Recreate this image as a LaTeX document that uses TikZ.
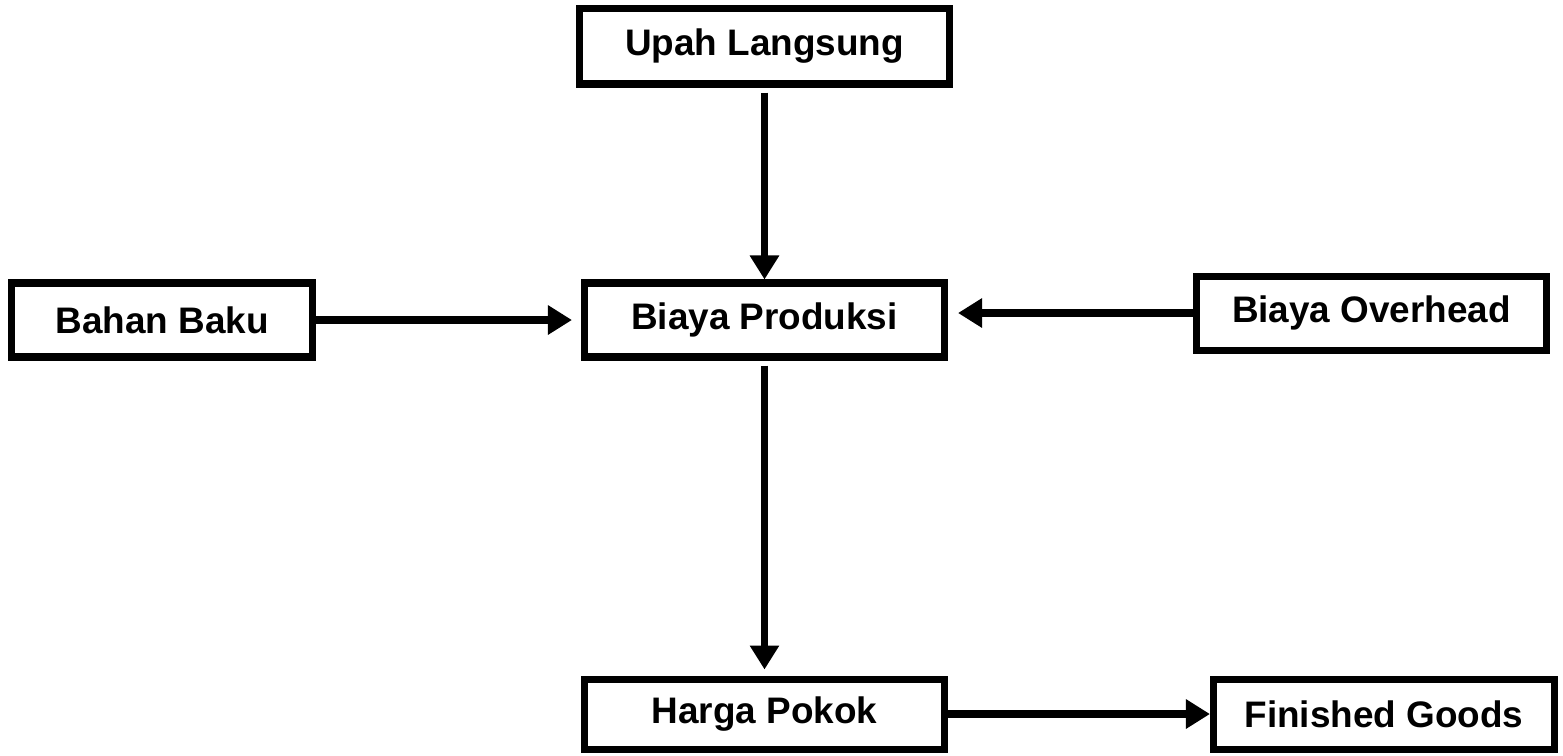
\documentclass[tikz,border=0pt]{standalone}
\usepackage{fontspec}
\setmainfont{Liberation Sans}
\usepackage{tikz}
\usetikzlibrary{arrows.meta, positioning, calc}
\tikzset{
  box/.style={
    rectangle, draw=black, line width=2pt, fill=white,
    minimum width=#1, minimum height=0.74cm, inner sep=0pt,
    text centered, font=\fontsize{10.5}{12}\selectfont\bfseries
  },
  arrow/.style={-{Triangle[length=0.24cm,width=0.28cm]}, line width=2.2pt, black}
}

\begin{document}
\begin{tikzpicture}[x=1cm, y=1cm]
  \useasboundingbox (0,0) rectangle (15.63,-7.55);
  \node[box=3.70cm, minimum height=0.76cm] (upah)     at (7.645,-0.46)  {Upah Langsung};
  \node[box=3.01cm]                        (bahan)    at (1.62,-3.20)   {Bahan Baku};
  \node[box=3.60cm]                        (biaya)    at (7.645,-3.20)  {Biaya Produksi};
  \node[box=3.50cm]                        (overhead) at (13.715,-3.13) {Biaya Overhead};
  \node[box=3.60cm, minimum height=0.70cm] (harga)    at (7.645,-7.14)  {Harga Pokok};
  \node[box=3.41cm, minimum height=0.70cm] (finished) at (13.84,-7.14)  {Finished Goods};

  \draw[arrow, shorten <=0.05cm] (upah) -- (biaya);
  \draw[arrow, shorten <=0.05cm, shorten >=0.06cm] (biaya) -- (harga);
  \draw[arrow, shorten >=0.09cm] (bahan) -- (biaya);
  \draw[arrow, shorten >=0.10cm] (overhead.west) -- (overhead.west -| biaya.east);
  \draw[arrow] (harga) -- (finished);
\end{tikzpicture}
\end{document}
